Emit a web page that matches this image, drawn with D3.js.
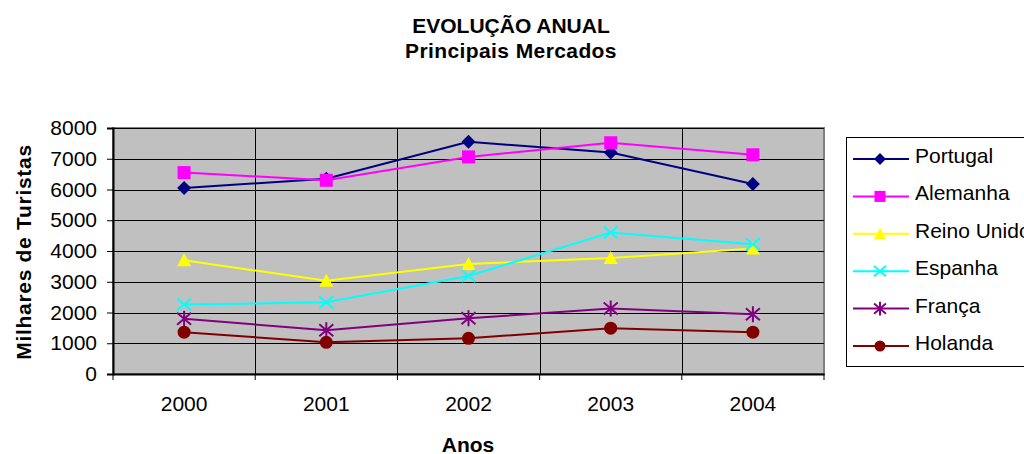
<!DOCTYPE html>
<html>
<head>
<meta charset="utf-8">
<script src="https://cdn.jsdelivr.net/npm/d3@7"></script>
<style>
  body { margin: 0; background: #fff; overflow: hidden; }
  svg { font-family: "Liberation Sans", Arial, sans-serif; display: block; }
</style>
</head>
<body>
<script>
const anos = ["2000", "2001", "2002", "2003", "2004"];
const paises = ["Portugal", "Alemanha", "Reino Unido", "Espanha", "França", "Holanda"];
const portugal = [6050, 6350, 7550, 7200, 6180];
const alemanha = [6550, 6300, 7060, 7520, 7130];
const reinoUnido = [3700, 3030, 3580, 3770, 4080];
const espanha = [2260, 2330, 3190, 4600, 4220];
const franca = [1800, 1420, 1810, 2130, 1940];
const holanda = [1360, 1030, 1160, 1490, 1360];
const yTicks = [0, 1000, 2000, 3000, 4000, 5000, 6000, 7000, 8000];

const series = [portugal, alemanha, reinoUnido, espanha, franca, holanda];
const cores = ["#000080", "#ff00ff", "#ffff00", "#00ffff", "#800080", "#800000"];
const simbolos = ["diamond", "square", "triangle", "x", "star", "circle"];

var width = 1024, height = 454;
var svg = d3.select("body").append("svg").attr("width", width).attr("height", height);

var pLeft = 113, pRight = 824, pTop = 128, pBottom = 374;
var x = d3.scaleBand().domain(anos).range([pLeft, pRight]).padding(0);
var y = d3.scaleLinear().domain([0, 8000]).range([pBottom, pTop]);

// area do grafico
svg.append("rect").attr("x", pLeft).attr("y", pTop).attr("width", pRight - pLeft).attr("height", pBottom - pTop)
   .attr("fill", "#c0c0c0").attr("stroke", "#808080").attr("stroke-width", 2);

// grelha
svg.append("g").selectAll("line").data(yTicks.slice(1)).enter().append("line")
   .attr("x1", pLeft).attr("x2", pRight).attr("y1", d => Math.round(y(d)) + 0.5).attr("y2", d => Math.round(y(d)) + 0.5)
   .attr("stroke", "#000").attr("stroke-width", 1);
svg.append("g").selectAll("line").data(anos.slice(1)).enter().append("line")
   .attr("x1", d => Math.round(x(d)) + 0.5).attr("x2", d => Math.round(x(d)) + 0.5).attr("y1", pTop).attr("y2", pBottom)
   .attr("stroke", "#000").attr("stroke-width", 1);

// eixos
var yAxis = svg.append("g").attr("transform", "translate(" + pLeft + ",0)")
   .call(d3.axisLeft(y).tickValues(yTicks).tickSize(6).tickPadding(10).tickFormat(d3.format("d")));
yAxis.selectAll("text").attr("font-size", 21).attr("fill", "#000").attr("font-family", "Liberation Sans, Arial, sans-serif");
yAxis.select(".domain").attr("stroke", "#000").attr("stroke-width", 2);

var xAxis = svg.append("g").attr("transform", "translate(0," + pBottom + ")")
   .call(d3.axisBottom(x).tickSize(0).tickPadding(22));
xAxis.selectAll("text").attr("font-size", 21).attr("fill", "#000").attr("font-family", "Liberation Sans, Arial, sans-serif");
xAxis.select(".domain").attr("stroke", "#000").attr("stroke-width", 2);
xAxis.selectAll(".bnd").data(anos.concat(["fim"])).enter().append("line").attr("class", "bnd")
   .attr("x1", (d, i) => i < anos.length ? x(d) : pRight).attr("x2", (d, i) => i < anos.length ? x(d) : pRight)
   .attr("y1", 0).attr("y2", 6).attr("stroke", "#000");

function simbolo(g, tipo, cor, s) {
  if (tipo == "diamond") {
    g.append("path").attr("d", "M0,-7L7,0L0,7L-7,0Z").attr("fill", cor);
  } else if (tipo == "square") {
    g.append("rect").attr("x", -6.5).attr("y", -6.5).attr("width", 13).attr("height", 13).attr("fill", cor);
  } else if (tipo == "triangle") {
    g.append("path").attr("d", "M0,-7L7,6L-7,6Z").attr("fill", cor);
  } else if (tipo == "circle") {
    g.append("circle").attr("r", 6.5).attr("fill", cor);
  } else if (tipo == "x") {
    g.append("path").attr("d", "M-7,-6L7,6M-7,6L7,-6").attr("stroke", cor).attr("stroke-width", 2 / s);
  } else if (tipo == "star") {
    g.append("path").attr("d", "M-7,-6L7,6M-7,6L7,-6M0,-8L0,8").attr("stroke", cor).attr("stroke-width", 2 / s);
  }
}

var linha = d3.line().x((d, i) => x(anos[i]) + x.bandwidth() / 2).y(d => y(d));
series.forEach(function(s, k) {
  svg.append("path").datum(s).attr("d", linha).attr("fill", "none")
     .attr("stroke", cores[k]).attr("stroke-width", 2);
});
series.forEach(function(s, k) {
  s.forEach(function(v, i) {
    var g = svg.append("g").attr("transform", "translate(" + (x(anos[i]) + x.bandwidth() / 2) + "," + y(v) + ")");
    simbolo(g, simbolos[k], cores[k], 1);
  });
});

// titulos
svg.append("text").attr("x", 511).attr("y", 33).attr("text-anchor", "middle").attr("font-weight", "bold")
   .attr("font-size", 21).text("EVOLUÇÃO ANUAL");
svg.append("text").attr("x", 511).attr("y", 58).attr("text-anchor", "middle").attr("font-weight", "bold")
   .attr("font-size", 21).attr("letter-spacing", 0.4).text("Principais Mercados");
svg.append("text").attr("x", 468).attr("y", 452).attr("text-anchor", "middle").attr("font-weight", "bold")
   .attr("font-size", 21).text("Anos");
svg.append("text").attr("transform", "translate(31,252) rotate(-90)").attr("text-anchor", "middle")
   .attr("font-weight", "bold").attr("font-size", 21).attr("letter-spacing", 0.7).text("Milhares de Turistas");

// legenda
svg.append("rect").attr("x", 846.5).attr("y", 137.5).attr("width", 200).attr("height", 229)
   .attr("fill", "#fff").attr("stroke", "#000").attr("stroke-width", 1);
var legend = svg.append("g").selectAll(".legends").data(paises).enter().append("g").classed("legends", true)
   .attr("transform", (d, i) => "translate(0," + (159 + i * 37.4) + ")");
legend.append("line").attr("x1", 853).attr("x2", 909).attr("y1", 0).attr("y2", 0)
   .attr("stroke", (d, i) => cores[i]).attr("stroke-width", 2);
legend.each(function(d, i) {
  var g = d3.select(this).append("g").attr("transform", "translate(880,0) scale(0.85)");
  simbolo(g, simbolos[i], cores[i], 0.85);
});
legend.append("text").attr("x", 915).attr("y", 4).attr("font-size", 21).text(d => d);
</script>
</body>
</html>
